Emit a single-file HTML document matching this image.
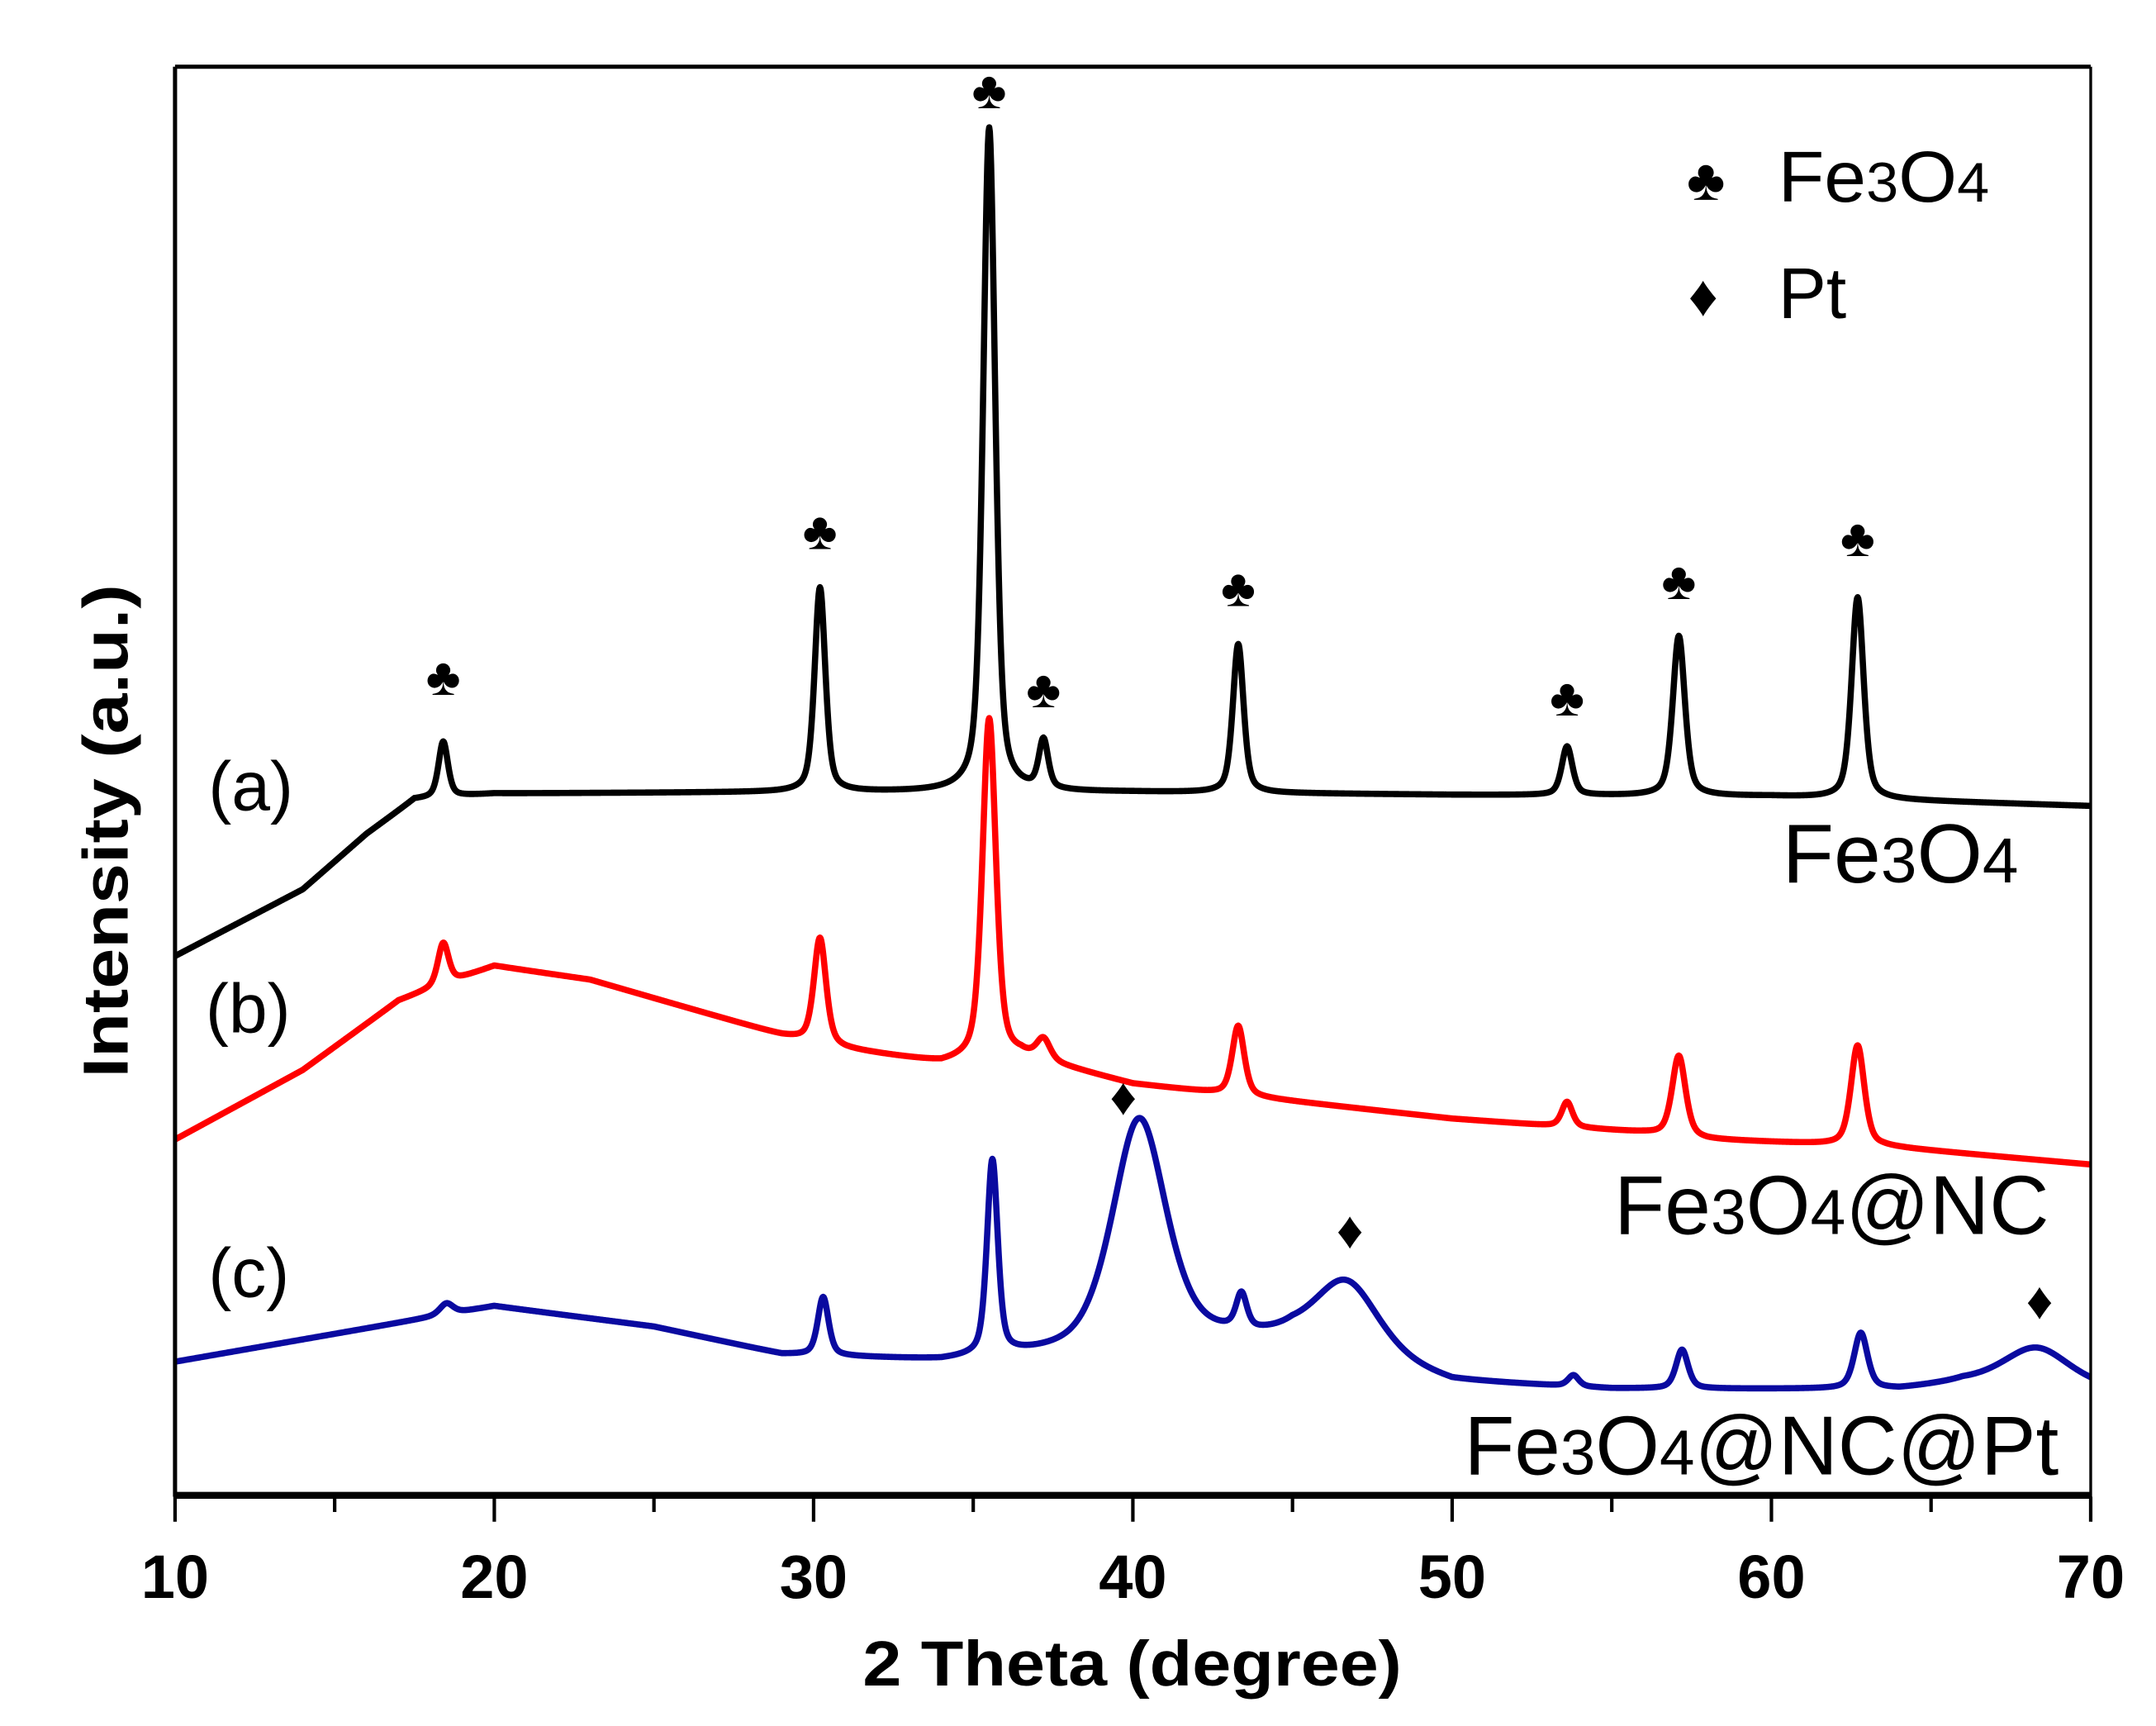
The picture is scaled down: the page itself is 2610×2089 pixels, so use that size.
<!DOCTYPE html>
<html><head><meta charset="utf-8"><style>
html,body{margin:0;padding:0;background:#fff;}
svg{display:block;font-family:"Liberation Sans",Arial,sans-serif;}
</style></head><body>
<svg id="chart" width="2610" height="2089" viewBox="0 0 1552 1242" preserveAspectRatio="none" xmlns="http://www.w3.org/2000/svg">
<rect x="0" y="0" width="1552" height="1242" fill="#fff"/>
<g id="series"></g>
<g id="frame">
<line x1="126" y1="48" x2="1505" y2="48" stroke="#000" stroke-width="3"/>
<line x1="126" y1="48" x2="126" y2="1077" stroke="#000" stroke-width="3"/>
<line x1="1505" y1="48" x2="1505" y2="1077" stroke="#000" stroke-width="2"/>
<line x1="126" y1="1076" x2="1505" y2="1076" stroke="#000" stroke-width="5"/>
</g>
<g id="xticks"></g>
<text x="815" y="1213" font-size="46" font-weight="bold" text-anchor="middle" textLength="388" lengthAdjust="spacingAndGlyphs">2 Theta (degree)</text>
<text transform="translate(92,598) rotate(-90)" font-size="46" font-weight="bold" text-anchor="middle" textLength="355" lengthAdjust="spacingAndGlyphs">Intensity (a.u.)</text>
<g id="markers"></g>
<g>
<text x="1228" y="144" font-size="42" text-anchor="middle">♣</text>
<text x="1280" y="145" font-size="52" textLength="152" lengthAdjust="spacingAndGlyphs">Fe<tspan font-size="40">3</tspan>O<tspan font-size="40">4</tspan></text>
<text x="1226" y="227" font-size="42" text-anchor="middle">♦</text>
<text x="1280" y="229" font-size="52">Pt</text>
</g>
<text x="150" y="583" font-size="50">(a)</text>
<text x="148" y="743" font-size="50">(b)</text>
<text x="150" y="933" font-size="50">(c)</text>
<text x="1453" y="635" font-size="60" text-anchor="end" textLength="170" lengthAdjust="spacingAndGlyphs">Fe<tspan font-size="46">3</tspan>O<tspan font-size="46">4</tspan></text>
<text x="1475" y="888" font-size="60" text-anchor="end" textLength="313" lengthAdjust="spacingAndGlyphs">Fe<tspan font-size="46">3</tspan>O<tspan font-size="46">4</tspan>@NC</text>
<text x="1482" y="1061" font-size="60" text-anchor="end" textLength="428" lengthAdjust="spacingAndGlyphs">Fe<tspan font-size="46">3</tspan>O<tspan font-size="46">4</tspan>@NC@Pt</text>
</svg>
<script>
// ---- data ----
const xTicks = [10,20,30,40,50,60,70];
const xMinor = [15,25,35,45,55,65];
// baselines: knots (2theta) and intensity values (a.u., arbitrary)
const baseAX = [10,14,16,17.5,20,30,40,50,60,70];
const baseAY = [387,435,475,500,504,505,505,503,502,495];
const peaksAX = [18.4,30.2,35.5,37.2,43.3,53.6,57.1,62.7];
const peaksAH = [40,147,478,35,107,35,115,145];
const peaksAW = [0.35,0.4,0.45,0.35,0.4,0.4,0.45,0.45];

const baseBX = [10,14,17,20,23,26,29,31,34,36.5,40,44,50,56,58,63.5,70];
const baseBY = [255,305,355,380,370,350,330,320,310,315,295,285,270,260,255,250,237];
const peaksBX = [18.4,30.2,35.5,37.2,43.3,53.6,57.1,62.7];
const peaksBH = [30,76,245,15,50,18,58,72];
const peaksBW = [0.4,0.45,0.5,0.5,0.45,0.4,0.5,0.5];

const baseCX = [10,15,20,25,29,34,38,43,45,50,55,60,64,66,70];
const baseCY = [95,115,135,120,100,95,100,110,110,80,75,75,75,80,75];
const peaksCX = [18.5,30.3,35.6,40.2,43.4,46.7,53.8,57.2,62.8,68.3];
const peaksCH = [8,42,140,165,25,52,8,28,40,28];
const peaksCW = [0.5,0.4,0.4,2.0,0.4,2.4,0.4,0.45,0.5,2.5];

const clubX = [18.4,30.2,35.5,37.2,43.3,53.6,57.1,62.7];
const clubY = [588,693,1010,579,652,573,657,688];
const diamX = [39.7,46.8,68.4];
const diamY = [286,190,139];

// ---- axes ----
const X0=126, X1=1505, Y0=1075;
function xs(v){return X0+(v-10)/(70-10)*(X1-X0);}
function ys(v){return Y0-v;}
const NS="http://www.w3.org/2000/svg";
function interp(kx,ky,x){
  if(x<=kx[0])return ky[0];
  for(let i=1;i<kx.length;i++){if(x<=kx[i]){const t=(x-kx[i-1])/(kx[i]-kx[i-1]);return ky[i-1]+t*(ky[i]-ky[i-1]);}}
  return ky[ky.length-1];
}
function profile(x,px,ph,pw){
  let s=0;
  for(let i=0;i<px.length;i++){const d=(x-px[i])/(pw[i]/2);s+=ph[i]*(0.5/(1+d*d)+0.5*Math.exp(-0.693*d*d));}
  return s;
}
function drawSeries(name,color,bx,by,px,ph,pw){
  let d="";
  for(let x=10;x<=70.0001;x+=0.02){
    const v=interp(bx,by,x)+profile(x,px,ph,pw);
    d+=(d?"L":"M")+xs(x).toFixed(2)+" "+ys(v).toFixed(2);
  }
  const p=document.createElementNS(NS,"path");
  p.setAttribute("d",d);p.setAttribute("fill","none");p.setAttribute("stroke",color);
  p.setAttribute("stroke-width","4.5");p.setAttribute("stroke-linejoin","round");
  
  
  document.getElementById("series").appendChild(p);
}
drawSeries("series-a-fe3o4","#000",baseAX,baseAY,peaksAX,peaksAH,peaksAW);
drawSeries("series-b-fe3o4-nc","#ff0000",baseBX,baseBY,peaksBX,peaksBH,peaksBW);
drawSeries("series-c-fe3o4-nc-pt","#0a0aa0",baseCX,baseCY,peaksCX,peaksCH,peaksCW);

const tg=document.getElementById("xticks");
xTicks.forEach(t=>{
  const l=document.createElementNS(NS,"line");
  l.setAttribute("x1",xs(t));l.setAttribute("x2",xs(t));l.setAttribute("y1",1077);l.setAttribute("y2",1095);
  l.setAttribute("stroke","#000");l.setAttribute("stroke-width","2.5");
  
  
  tg.appendChild(l);
  const tx=document.createElementNS(NS,"text");
  tx.setAttribute("x",xs(t));tx.setAttribute("y",1150);tx.setAttribute("font-size","44");
  tx.setAttribute("font-weight","bold");tx.setAttribute("text-anchor","middle");
  tx.textContent=t;
  
  
  tg.appendChild(tx);
});
xMinor.forEach(t=>{
  const l=document.createElementNS(NS,"line");
  l.setAttribute("x1",xs(t));l.setAttribute("x2",xs(t));l.setAttribute("y1",1077);l.setAttribute("y2",1088);
  l.setAttribute("stroke","#000");l.setAttribute("stroke-width","2.5");
  
  
  tg.appendChild(l);
});
const mg=document.getElementById("markers");
clubX.forEach((x,i)=>{
  const t=document.createElementNS(NS,"text");
  t.setAttribute("x",xs(x));t.setAttribute("y",ys(clubY[i])+13);t.setAttribute("font-size","38");t.setAttribute("text-anchor","middle");
  t.textContent="♣";
  
  
  mg.appendChild(t);
});
diamX.forEach((x,i)=>{
  const t=document.createElementNS(NS,"text");
  t.setAttribute("x",xs(x));t.setAttribute("y",ys(diamY[i])+13);t.setAttribute("font-size","38");t.setAttribute("text-anchor","middle");
  t.textContent="♦";
  
  
  mg.appendChild(t);
});
</script>
</body></html>
